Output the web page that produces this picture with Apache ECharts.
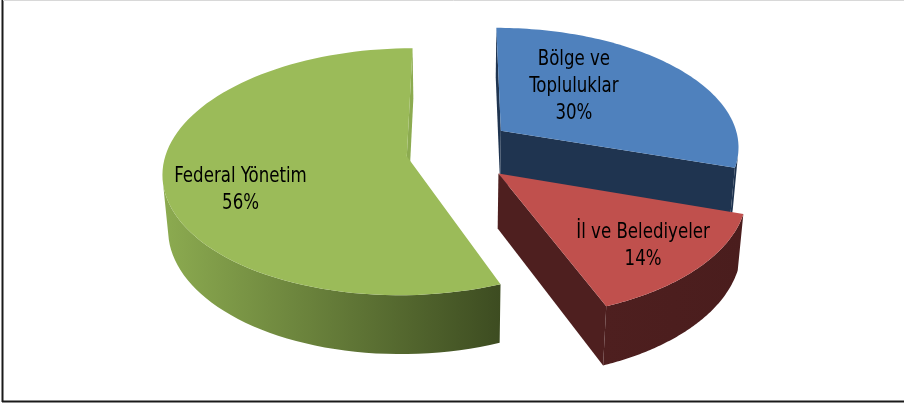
<!DOCTYPE html>
<html>
<head>
<meta charset="utf-8">
<script src="https://cdn.jsdelivr.net/npm/echarts@6/dist/echarts.min.js"></script>
<style>
html, body { margin: 0; padding: 0; background: #fff; }
#chart { width: 904px; height: 404px; }
</style>
</head>
<body>
<div id="chart"></div>
<script>
// dilimler saat 12'den baslar, saat yonunde
var names = ['Bölge ve\nTopluluklar', 'İl ve Belediyeler', 'Federal Yönetim'];
var shares = [30, 14, 56];

var topColors = ['#4f81bd', '#c0504d', '#9bbb59'];
var sideColors = [['#1f3450', '#1f3450'], ['#4e1f1f', '#4a1d1d'], ['#8cab50', '#3d4c21']];
// etiket yeri: [aci (derece), yaricap orani]
var labelPlace = [[40, 0.52], [135, 0.76], [248, 0.71]];

// 3B gorunum (perspektif)
var view = {
	cx : 459,
	cy : 150,
	S : 240, // yaricap (piksel)
	elev : 30 * Math.PI / 180, // bakis acisi
	D : 7, // kamera uzakligi
	Ex : 0.22, // disari cekme
	Ez : 0.28,
	h : 0.265 // kalinlik
};
var sinE = Math.sin(view.elev), cosE = Math.cos(view.elev);

function proj(X, Y, Z) {
	var yc = Z * sinE - Y * cosE;
	var zc = view.D - Z * cosE - Y * sinE;
	var k = view.D / zc;
	return [view.cx + view.S * X * k, view.cy + view.S * yc * k];
}

function renderSlice(params, api) {
	var i = params.dataIndex;
	var total = 0, before = 0;
	for (var k = 0; k < shares.length; k++) {
		total += shares[k];
		if (k < i) before += shares[k];
	}
	var a0 = before / total * Math.PI * 2;
	var a1 = (before + api.value(0)) / total * Math.PI * 2;
	var mid = (a0 + a1) / 2;
	var ox = view.Ex * Math.sin(mid);
	var oz = -view.Ez * Math.cos(mid);
	var camZ = view.D * cosE;

	function rim(t, f) {
		if (f == null) f = 1;
		return [ox + f * Math.sin(t), oz - f * Math.cos(t)];
	}
	function top(w) { return proj(w[0], 0, w[1]); }
	function bot(w) { return proj(w[0], -view.h, w[1]); }
	// yuzey kameraya donuk mu
	function facing(nx, nz, w) {
		return nx * (0 - w[0]) + nz * (camZ - w[1]) > 0;
	}

	var steps = 90;
	var children = [];
	var apex = [ox, oz];

	// dis yuzey
	var upper = [], lower = [];
	for (var s = 0; s <= steps; s++) {
		var t = a0 + (a1 - a0) * s / steps;
		var w = rim(t);
		if (facing(Math.sin(t), -Math.cos(t), w)) {
			upper.push(top(w));
			lower.unshift(bot(w));
		}
	}
	if (upper.length > 1) {
		children.push({
			type : 'polygon',
			z2 : 1,
			shape : { points : upper.concat(lower) },
			style : {
				fill : new echarts.graphic.LinearGradient(0, 0, 1, 0, [
					{ offset : 0, color : sideColors[i][0] },
					{ offset : 1, color : sideColors[i][1] }
				])
			}
		});
	}

	// kesim yuzeyleri
	[[a0, a0 - Math.PI / 2], [a1, a1 + Math.PI / 2]].forEach(function(e) {
		if (facing(Math.sin(e[1]), -Math.cos(e[1]), apex)) {
			var w = rim(e[0]);
			children.push({
				type : 'polygon',
				z2 : 2,
				shape : { points : [top(apex), top(w), bot(w), bot(apex)] },
				style : { fill : sideColors[i][0] }
			});
		}
	});

	// ust yuzey
	var face = [top(apex)];
	for (var s2 = 0; s2 <= steps; s2++) {
		face.push(top(rim(a0 + (a1 - a0) * s2 / steps)));
	}
	children.push({
		type : 'polygon',
		z2 : 5,
		shape : { points : face },
		style : { fill : topColors[i] }
	});

	var lp = top(rim(labelPlace[i][0] * Math.PI / 180, labelPlace[i][1]));
	children.push({
		type : 'text',
		z2 : 10,
		x : lp[0],
		y : lp[1],
		scaleX : 0.88,
		style : {
			text : names[i] + '\n' + api.value(0) + '%',
			fill : '#000',
			fontSize : 21,
			fontFamily : "'DejaVu Sans Condensed', 'Liberation Sans Narrow', sans-serif",
			lineHeight : 27,
			align : 'center',
			verticalAlign : 'middle'
		}
	});

	return { type : 'group', children : children };
}

var myChart = echarts.init(document.getElementById('chart'));
var options = {
	animation : false,
	backgroundColor : '#fff',
	graphic : [
		{ type : 'line', shape : { x1 : 2.5, y1 : 0, x2 : 2.5, y2 : 402 }, style : { stroke : '#1a1a1a', lineWidth : 2 } },
		{ type : 'line', shape : { x1 : 2, y1 : 401.5, x2 : 904, y2 : 401.5 }, style : { stroke : '#1a1a1a', lineWidth : 2 } },
		{ type : 'line', shape : { x1 : 3, y1 : 0.5, x2 : 904, y2 : 0.5 }, style : { stroke : '#d8d8d8', lineWidth : 1 } }
	],
	series : [ {
		type : 'custom',
		coordinateSystem : 'none',
		renderItem : renderSlice,
		data : shares.map(function(v, k) {
			return { name : names[k], value : [v] };
		})
	} ]
};
myChart.setOption(options);
</script>
</body>
</html>
